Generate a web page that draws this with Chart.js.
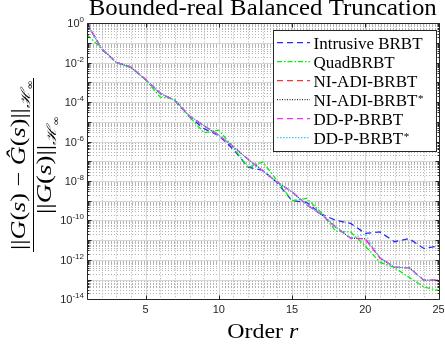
<!DOCTYPE html>
<html>
<head>
<meta charset="utf-8">
<script src="https://cdn.jsdelivr.net/npm/chart.js@4.4.1/dist/chart.umd.min.js"></script>
<style>
  html, body { margin: 0; padding: 0; background: #fff; }
  #wrap { width: 445px; height: 351px; position: relative; }
</style>
</head>
<body>
<div id="wrap"><canvas id="myChart"></canvas></div>
<script>
// reduced order r
const orders = [1, 2, 3, 4, 5, 6, 7, 8, 9, 10, 11, 12, 13, 14, 15, 16, 17, 18, 19, 20, 21, 22, 23, 24, 25];

// relative H-infinity error, one array per method
const intrusiveBRBT = [1, 5.0e-2, 1.05e-2, 5.9e-3, 1.4e-3, 2.8e-4, 1.2e-4, 1.8e-5, 4.5e-6, 2.0e-6,
  4.0e-7, 5.0e-8, 3.5e-8, 7.9e-9, 1.0e-9, 8.3e-10, 2.1e-10, 1.0e-10, 7.1e-11, 2.2e-11,
  2.6e-11, 8.3e-12, 1.2e-11, 3.8e-12, 5.0e-12];
const quadBRBT = [2.6e-1, 5.3e-2, 1.0e-2, 5.6e-3, 1.4e-3, 1.8e-4, 1.4e-4, 1.8e-5, 2.8e-6, 3.8e-6,
  5.0e-7, 4.8e-8, 9.3e-8, 1.0e-8, 1.0e-9, 1.3e-9, 2.5e-10, 2.8e-11, 2.6e-11, 5.0e-12,
  7.6e-13, 4.0e-13, 1.3e-13, 4.2e-14, 2.8e-14];
const niAdiBRBT = [1, 5.0e-2, 1.05e-2, 5.9e-3, 1.4e-3, 2.8e-4, 1.2e-4, 2.0e-5, 6.3e-6, 2.1e-6,
  5.4e-7, 1.26e-7, 3.3e-8, 8.5e-9, 2.8e-9, 6.3e-10, 2.0e-10, 4.5e-11, 1.26e-11, 1.17e-11,
  1.26e-12, 4.2e-13, 4.0e-13, 9.3e-14, 9.3e-14];
const niAdiBRBTStar = [1, 5.0e-2, 1.05e-2, 5.9e-3, 1.4e-3, 2.8e-4, 1.2e-4, 2.0e-5, 6.3e-6, 2.1e-6,
  5.4e-7, 1.26e-7, 3.3e-8, 8.5e-9, 2.8e-9, 6.3e-10, 2.0e-10, 4.5e-11, 1.26e-11, 1.17e-11,
  1.26e-12, 4.2e-13, 4.0e-13, 9.3e-14, 9.3e-14];
const ddPBRBT = [1, 5.0e-2, 1.05e-2, 5.9e-3, 1.4e-3, 2.8e-4, 1.2e-4, 2.0e-5, 6.3e-6, 2.1e-6,
  5.4e-7, 1.26e-7, 3.3e-8, 8.5e-9, 2.8e-9, 6.3e-10, 2.0e-10, 4.5e-11, 1.26e-11, 1.17e-11,
  1.26e-12, 4.2e-13, 4.0e-13, 9.3e-14, 9.3e-14];
const ddPBRBTStar = [1, 5.0e-2, 1.05e-2, 5.9e-3, 1.4e-3, 2.8e-4, 1.2e-4, 2.0e-5, 6.3e-6, 2.1e-6,
  5.4e-7, 1.26e-7, 3.3e-8, 8.5e-9, 2.8e-9, 6.3e-10, 2.2e-10, 4.5e-11, 1.3e-11, 2.0e-11,
  1.3e-12, 4.2e-13, 4.0e-13, 9.3e-14, 9.3e-14];

const seriesLabels = ['Intrusive BRBT', 'QuadBRBT', 'NI-ADI-BRBT', 'NI-ADI-BRBT*', 'DD-P-BRBT', 'DD-P-BRBT*'];
const xTickValues = [5, 10, 15, 20, 25];
const yTickExponents = [0, -2, -4, -6, -8, -10, -12, -14];

const axisColor = '#262626';

function makeSet(label, values, color, dash, width) {
  return {
    label: label,
    data: orders.map((r, i) => ({ x: r, y: values[i] })),
    borderColor: color,
    borderDash: dash,
    borderWidth: width,
    pointRadius: 0,
    fill: false,
    tension: 0
  };
}

// draws a list of text pieces one after the other, returns total width
function drawRuns(ctx, runs, x, base, measureOnly) {
  let w = 0;
  runs.forEach(r => {
    ctx.font = r.font;
    if (!measureOnly) ctx.fillText(r.t, x + w, base + (r.dy || 0));
    w += ctx.measureText(r.t).width;
  });
  return w;
}

function fitText(ctx, runs, cx, base, targetW) {
  const w = drawRuns(ctx, runs, 0, 0, true);
  ctx.save();
  ctx.translate(cx, base);
  ctx.scale(targetW / w, 1);
  ctx.textAlign = 'left';
  drawRuns(ctx, runs, -w / 2, 0, false);
  ctx.restore();
}

const matlabAxes = {
  id: 'matlabAxes',
  beforeDatasetsDraw(chart) {
    const { ctx, chartArea: a, scales: { x, y } } = chart;
    ctx.save();
    ctx.lineWidth = 1;
    // minor grid, dotted
    ctx.strokeStyle = '#b4b4b4';
    ctx.setLineDash([1, 2]);
    ctx.beginPath();
    for (let k = -14; k < 0; k++) {
      for (let m = 2; m <= 9; m++) {
        const py = Math.round(y.getPixelForValue(m * Math.pow(10, k))) + 0.5;
        ctx.moveTo(a.left, py); ctx.lineTo(a.right, py);
      }
    }
    for (let v = 2; v < 25; v++) {
      if (v % 5 === 0) continue;
      const px = Math.round(x.getPixelForValue(v)) + 0.5;
      ctx.moveTo(px, a.top); ctx.lineTo(px, a.bottom);
    }
    ctx.stroke();
    // major grid
    ctx.setLineDash([]);
    ctx.strokeStyle = '#d6d6d6';
    ctx.beginPath();
    for (let k = -13; k < 0; k++) {
      const py = Math.round(y.getPixelForValue(Math.pow(10, k))) + 0.5;
      ctx.moveTo(a.left, py); ctx.lineTo(a.right, py);
    }
    xTickValues.forEach(v => {
      const px = Math.round(x.getPixelForValue(v)) + 0.5;
      ctx.moveTo(px, a.top); ctx.lineTo(px, a.bottom);
    });
    ctx.stroke();
    ctx.restore();
  },
  afterDraw(chart) {
    const { ctx, chartArea: a, scales: { x, y } } = chart;
    ctx.save();
    const L = Math.round(a.left) + 0.5, R = Math.round(a.right) + 0.5;
    const T = Math.round(a.top) + 0.5, B = Math.round(a.bottom) + 0.5;

    // box + inward ticks
    ctx.strokeStyle = axisColor;
    ctx.lineWidth = 1;
    ctx.beginPath();
    ctx.rect(L, T, R - L, B - T);
    for (let k = -14; k <= 0; k++) {
      const py = Math.round(y.getPixelForValue(Math.pow(10, k))) + 0.5;
      ctx.moveTo(L, py); ctx.lineTo(L + 4, py);
      ctx.moveTo(R, py); ctx.lineTo(R - 4, py);
      if (k < 0) {
        for (let m = 2; m <= 9; m++) {
          const q = Math.round(y.getPixelForValue(m * Math.pow(10, k))) + 0.5;
          ctx.moveTo(L, q); ctx.lineTo(L + 2, q);
          ctx.moveTo(R, q); ctx.lineTo(R - 2, q);
        }
      }
    }
    xTickValues.forEach(v => {
      const px = Math.round(x.getPixelForValue(v)) + 0.5;
      ctx.moveTo(px, B); ctx.lineTo(px, B - 4);
      ctx.moveTo(px, T); ctx.lineTo(px, T + 4);
    });
    ctx.stroke();

    // tick labels
    ctx.fillStyle = axisColor;
    ctx.textBaseline = 'alphabetic';
    ctx.font = '11px "Liberation Sans", Arial, sans-serif';
    ctx.textAlign = 'center';
    xTickValues.forEach(v => {
      ctx.fillText(String(v), x.getPixelForValue(v), a.bottom + 14);
    });
    yTickExponents.forEach(e => {
      const py = y.getPixelForValue(Math.pow(10, e));
      const sup = String(e);
      ctx.font = '8px "Liberation Sans", Arial, sans-serif';
      const sw = ctx.measureText(sup).width;
      const xr = a.left - 3;
      ctx.textAlign = 'left';
      ctx.fillText(sup, xr - sw, py - 1);
      ctx.font = '11px "Liberation Sans", Arial, sans-serif';
      ctx.textAlign = 'right';
      ctx.fillText('10', xr - sw, py + 4);
    });

    // title and x label
    ctx.fillStyle = '#000';
    ctx.textAlign = 'left';
    const cx = (a.left + a.right) / 2;
    fitText(ctx, [{ t: 'Bounded-real Balanced Truncation', font: '24px "Liberation Serif", serif' }], cx, 15, 348);
    fitText(ctx, [
      { t: 'Order ', font: '22px "Liberation Serif", serif' },
      { t: 'r', font: 'italic 22px "Liberation Serif", serif' }
    ], cx, 338, 71);

    // y label: fraction, rotated
    const up = '20px "Liberation Serif", serif';
    const it = 'italic 20px "Liberation Serif", serif';
    const sub = [
      { t: 'ℋ', font: 'italic 13px "DejaVu Serif", serif', dy: 5 },
      { t: '∞', font: '9px "DejaVu Sans", sans-serif', dy: 8 }
    ];
    const num = [
      { t: '||', font: up }, { t: 'G', font: it }, { t: '(', font: up }, { t: 's', font: it }, { t: ')', font: up },
      { t: ' − ', font: up },
      { t: 'Ĝ', font: it }, { t: '(', font: up }, { t: 's', font: it }, { t: ')', font: up }, { t: '||', font: up }
    ].concat(sub);
    const den = [
      { t: '||', font: up }, { t: 'G', font: it }, { t: '(', font: up }, { t: 's', font: it }, { t: ')', font: up },
      { t: '||', font: up }
    ].concat(sub);
    ctx.save();
    ctx.translate(33, 165);
    ctx.rotate(-Math.PI / 2);
    fitText(ctx, num, 0, -8, 170);
    fitText(ctx, den, 0, 18, 98);
    ctx.strokeStyle = '#000';
    ctx.lineWidth = 1;
    ctx.beginPath();
    ctx.moveTo(-87, 0.5); ctx.lineTo(87, 0.5);
    ctx.stroke();
    ctx.restore();

    // legend box in the top right corner
    const lx = 273.5, ly = 30.5, lw = 163, lh = 121;
    ctx.fillStyle = '#fff';
    ctx.fillRect(lx, ly, lw, lh);
    ctx.strokeStyle = axisColor;
    ctx.strokeRect(lx, ly, lw, lh);
    chart.data.datasets.forEach((ds, i) => {
      const yy = 42.7 + i * 19;
      ctx.save();
      ctx.strokeStyle = ds.borderColor;
      ctx.lineWidth = ds.borderWidth;
      ctx.setLineDash(ds.borderDash);
      ctx.beginPath();
      ctx.moveTo(277, yy); ctx.lineTo(310, yy);
      ctx.stroke();
      ctx.restore();
      ctx.fillStyle = '#000';
      ctx.textAlign = 'left';
      let name = ds.label, star = false;
      if (name.endsWith('*')) { name = name.slice(0, -1); star = true; }
      ctx.font = '17px "Liberation Serif", serif';
      ctx.fillText(name, 313.5, yy + 6);
      if (star) {
        const w = ctx.measureText(name).width;
        ctx.font = '11px "Liberation Serif", serif';
        ctx.fillText('*', 313.5 + w + 0.5, yy + 2);
      }
    });
    ctx.restore();
  }
};

const ctx = document.getElementById('myChart').getContext('2d');
const myChart = new Chart(ctx, {
  type: 'line',
  data: {
    datasets: [
      makeSet(seriesLabels[0], intrusiveBRBT, 'rgb(40,40,255)', [6, 4], 1.3),
      makeSet(seriesLabels[1], quadBRBT, 'rgb(0,245,0)', [5, 2, 1.5, 2], 1.3),
      makeSet(seriesLabels[2], niAdiBRBT, 'rgb(255,50,50)', [6, 4], 1.3),
      makeSet(seriesLabels[3], niAdiBRBTStar, 'rgb(0,0,0)', [1, 1.5], 1),
      makeSet(seriesLabels[4], ddPBRBT, 'rgb(255,40,255)', [6, 4], 1.3),
      makeSet(seriesLabels[5], ddPBRBTStar, 'rgb(60,200,255)', [1.5, 1.5], 1.2)
    ].map((d, i) => Object.assign(d, { order: 5 - i }))
  },
  options: {
    responsive: true,
    maintainAspectRatio: false,
    animation: false,
    layout: { padding: { left: 87, right: 6.5, top: 23.3, bottom: 51.7 } },
    plugins: {
      legend: { display: false },
      tooltip: { enabled: false },
      title: { display: false }
    },
    scales: {
      x: {
        type: 'linear',
        min: 1,
        max: 25,
        display: false
      },
      y: {
        type: 'logarithmic',
        min: 1e-14,
        max: 1,
        display: false
      }
    }
  },
  plugins: [matlabAxes]
});
</script>
</body>
</html>
